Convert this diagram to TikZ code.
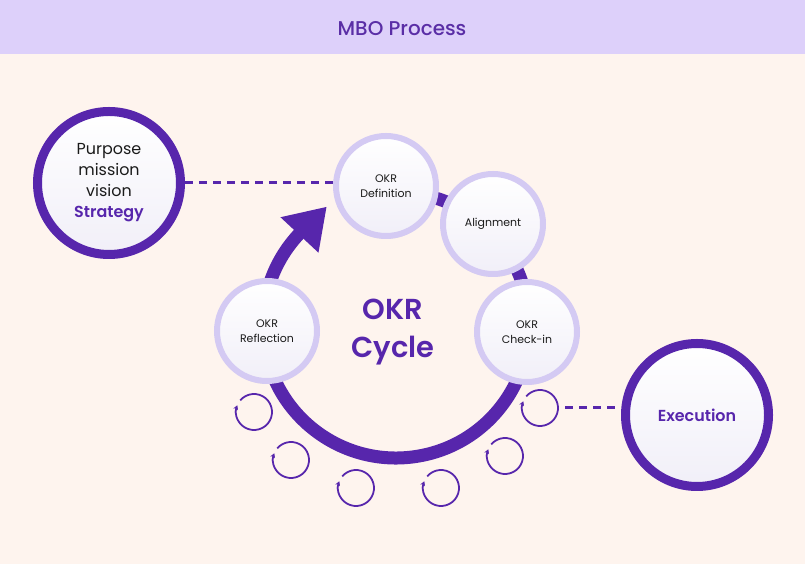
\documentclass[tikz,border=0pt]{standalone}
\usepackage{fontspec}
\setmainfont{Poppins}[BoldFont={Poppins SemiBold}]
\newfontfamily\pmed{Poppins Medium}
\usetikzlibrary{arrows.meta,calc,shadows}
\definecolor{bgc}{HTML}{FEF4EE}
\definecolor{headc}{HTML}{DDD0FA}
\definecolor{purp}{HTML}{5726AC}
\definecolor{titlec}{HTML}{5A2EA6}
\definecolor{lav}{HTML}{D4CAF3}
\definecolor{txt}{HTML}{1A1A1A}
\definecolor{fillb}{HTML}{F1EFF8}
\begin{document}
\begin{tikzpicture}[x=1bp,y=1bp,
  stagebox/.style={circle, minimum size=100bp, inner sep=0pt, draw=lav, line width=6bp,
    top color=white, bottom color=fillb, align=center, text=txt,
    font=\fontsize{11}{14.5}\selectfont,
    drop shadow={shadow xshift=0bp, shadow yshift=-3bp, opacity=0.10, fill=black!60}},
  bigbox/.style={circle, minimum size=143bp, inner sep=0pt, draw=purp, line width=9bp,
    top color=white, bottom color=fillb, align=center,
    drop shadow={shadow xshift=0bp, shadow yshift=-3bp, opacity=0.10, fill=black!60}},
  loopic/.style={draw=purp, line width=1.8bp, -{Stealth[length=4.5bp,width=5bp]}},
  dashln/.style={draw=purp, line width=3bp, dash pattern=on 8bp off 6bp}
]
\useasboundingbox (0,0) rectangle (805,564);
\fill[bgc] (0,0) rectangle (805,564);
\fill[headc] (0,510) rectangle (805,564);
\node[text=titlec, font=\pmed\fontsize{20}{24}\selectfont] (title) at (402,535) {MBO Process};

% cycle ring
\coordinate (C) at (396,239);
\draw[purp, line width=13bp] (C) ++(100:133) arc[start angle=100, end angle=-226, radius=133];
\fill[purp] ($(C)+(137:106)$) -- ($(C)+(120.5:137)$) -- ($(C)+(137:158)$) -- cycle;

% loop icons
\coordinate (l1) at (254,152);
\coordinate (l2) at (291,104);
\coordinate (l3) at (356,76);
\coordinate (l4) at (441,76);
\coordinate (l5) at (505,108);
\coordinate (l6) at (540,156);
\foreach \n in {l1,l2,l3,l4,l5,l6}{
  \draw[loopic] (\n) ++(140:18) arc[start angle=140, end angle=-202, radius=18];
}

% stage nodes
\node[stagebox] (def) at (386,378) {OKR\\Definition};
\node[stagebox] (ali) at (493,340) {Alignment};
\node[stagebox] (ref) at (267,233) {OKR\\Reflection};
\node[stagebox] (chk) at (527,232) {OKR\\Check-in};

\node[text=purp, font=\bfseries\fontsize{29}{39}\selectfont, align=center] (cyc) at (393,232) {OKR\\Cycle};

% big nodes
\node[bigbox, text=txt, font=\fontsize{16}{21}\selectfont] (pur) at (109,381) {\raisebox{2bp}{}Purpose\\mission\\vision\\{\color{purp}\bfseries Strategy}};
\node[bigbox, text=purp, font=\bfseries\fontsize{16}{21}\selectfont] (exe) at (697,149) {Execution};

% dashed connectors
\draw[dashln] (pur.east) -- (pur.east -| def.west);
\coordinate (es) at (565,156);
\draw[dashln] (es) -- (es -| exe.west);
\end{tikzpicture}
\end{document}
